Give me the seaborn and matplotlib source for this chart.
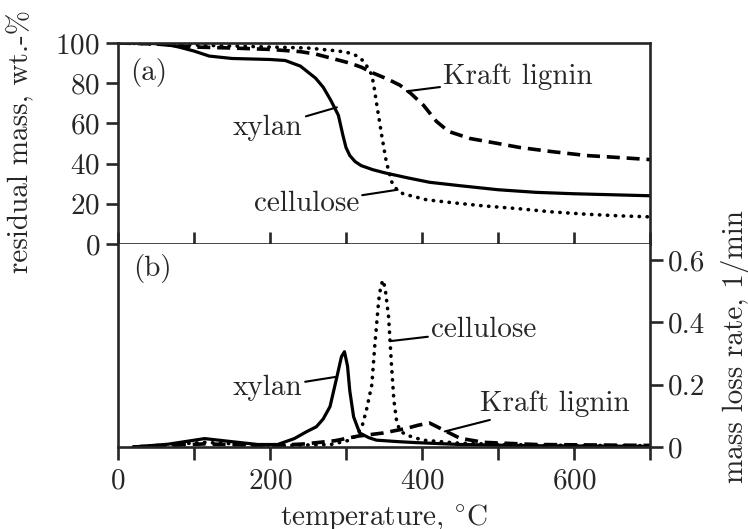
import numpy as np
import pandas as pd
import matplotlib
matplotlib.use("Agg")
import matplotlib.pyplot as plt
import seaborn as sns

# -----------------------------
# DATA
# -----------------------------
# (a) residual mass, wt.-%
xylan_T = [0, 30, 60, 80, 100, 120, 150, 200, 220, 240, 260, 270, 280, 290, 296,
           300, 305, 312, 320, 335, 350, 380, 410, 450, 500, 550, 600, 650, 700]
xylan_m = [100, 100, 99.5, 98, 96, 93.5, 92.3, 91.8, 91.3, 88.5, 82.5, 78, 71.5, 64, 54,
           48, 44, 41, 39, 37, 35.5, 33, 30.7, 29, 27, 25.7, 25, 24.5, 24]

cell_T = [0, 100, 200, 250, 290, 305, 315, 323, 330, 334, 337, 340, 347, 353, 360,
          367, 375, 406, 441, 480, 529, 570, 617, 660, 700]
cell_m = [100, 99, 98, 97.5, 96, 95, 93.5, 91, 87, 84, 78, 70.5, 54, 41, 31,
          27, 25, 22, 20.5, 19, 17.5, 16, 14.8, 14, 13.5]

kraft_T = [0, 50, 100, 150, 200, 240, 260, 280, 305, 320, 336, 355, 371, 385, 402,
           419, 435, 463, 500, 529, 570, 617, 660, 700]
kraft_m = [100, 99.5, 98, 97.5, 96.8, 95.7, 94.5, 92.5, 90, 88, 85, 82, 79, 75, 69,
           61, 56, 52.5, 50, 48, 46, 44, 43, 42]

# (b) mass loss rate, 1/min
xylan_rT = [20, 66, 114, 154, 184, 210, 232, 248, 261, 270, 279, 288, 294, 298,
            302, 305, 310, 318, 330, 340, 370, 393, 450, 550, 700]
xylan_r = [0.0, 0.009, 0.027, 0.016, 0.008, 0.008, 0.027, 0.049, 0.065, 0.09, 0.13,
           0.225, 0.29, 0.306, 0.26, 0.18, 0.097, 0.045, 0.03, 0.022, 0.017, 0.014,
           0.008, 0.004, 0.002]

cell_rT = [20, 114, 200, 280, 305, 315, 321, 327, 334, 338, 343, 346, 349, 352,
           356, 360, 363, 367, 372, 380, 401, 450, 550, 700]
cell_r = [0.0, 0.015, 0.004, 0.008, 0.022, 0.04, 0.065, 0.12, 0.2, 0.33, 0.47, 0.52,
          0.536, 0.5, 0.418, 0.258, 0.15, 0.076, 0.05, 0.038, 0.022, 0.012, 0.006, 0.004]

kraft_rT = [20, 114, 200, 246, 285, 316, 349, 380, 395, 410, 428, 450, 481, 550, 700]
kraft_r = [0.0, 0.01, 0.004, 0.01, 0.02, 0.035, 0.045, 0.06, 0.07, 0.077, 0.055,
           0.028, 0.015, 0.008, 0.005]

x_major = [0, 200, 400, 600]
x_minor = [100, 300, 500, 700]
mass_ticks = [0, 20, 40, 60, 80, 100]
rate_ticks = [0, 0.2, 0.4, 0.6]

# -----------------------------
# STYLE
# -----------------------------
sns.set_theme(style="ticks")
plt.rcParams["font.family"] = ["cmr10", "DejaVu Serif"]
plt.rcParams["mathtext.fontset"] = "cm"
plt.rcParams["axes.formatter.use_mathtext"] = True
plt.rcParams["font.size"] = 21
plt.rcParams["axes.unicode_minus"] = False

fs = 21
spine_w = 1.9
line_w = 2.3

solid = dict(color="black", lw=line_w, solid_capstyle="butt")
dotted = dict(color="black", lw=line_w + 0.3, linestyle=(0, (0.1, 2.1)), dash_capstyle="round")
dashed = dict(color="black", lw=line_w + 0.3, linestyle=(0, (3.6, 1.9)), dash_capstyle="butt")

fig = plt.figure(figsize=(7.48, 5.29), dpi=100)
ax1 = fig.add_axes([118 / 748, 1 - 244 / 529, 532 / 748, 201 / 529])
ax2 = fig.add_axes([118 / 748, 1 - 447 / 529, 532 / 748, 203 / 529])

# -----------------------------
# (a) residual mass
# -----------------------------
top = pd.DataFrame({"T": xylan_T, "m": xylan_m})
sns.lineplot(data=top, x="T", y="m", ax=ax1, **solid)
sns.lineplot(x=cell_T, y=cell_m, ax=ax1, **dotted)
sns.lineplot(x=kraft_T, y=kraft_m, ax=ax1, **dashed)

ax1.set_xlim(0, 700)
ax1.set_ylim(0, 100)
ax1.set_yticks(mass_ticks)
ax1.set_xticks(x_major)
ax1.set_xticks(x_minor, minor=True)
ax1.tick_params(axis="y", direction="out", length=9, width=spine_w, pad=4, labelsize=fs)
ax1.tick_params(axis="x", which="both", direction="in", length=9, width=spine_w,
                labelbottom=False)
ax1.set_xlabel("")
ax1.set_ylabel("residual mass, wt.-%", fontsize=fs)
ax1.yaxis.set_label_coords(-0.158, 0.512)
for s in ax1.spines.values():
    s.set_linewidth(spine_w)
    s.set_visible(True)

ax1.text(0.022, 0.855, "(a)", transform=ax1.transAxes, fontsize=fs, va="center")

leader = dict(arrowstyle="-", lw=1.5, color="black", shrinkA=0, shrinkB=0)
ax1.annotate("xylan", xy=(288, 68), xytext=(243, 58), ha="right", va="center",
             fontsize=fs, arrowprops=leader)
ax1.annotate("cellulose", xy=(368, 27), xytext=(317, 20), ha="right", va="center",
             fontsize=fs, arrowprops=leader)
ax1.annotate("Kraft lignin", xy=(380, 76), xytext=(428, 83), ha="left", va="center",
             fontsize=fs, arrowprops=leader)

# -----------------------------
# (b) mass loss rate
# -----------------------------
sns.lineplot(x=xylan_rT, y=xylan_r, ax=ax2, **solid)
sns.lineplot(x=cell_rT, y=cell_r, ax=ax2, **dotted)
sns.lineplot(x=kraft_rT, y=kraft_r, ax=ax2, **dashed)

ax2.set_xlim(0, 700)
ax2.set_ylim(0, 0.652)
ax2.set_xticks(x_major)
ax2.set_xticks(x_minor, minor=True)
ax2.set_yticks(rate_ticks)
ax2.set_yticklabels(["0", "0.2", "0.4", "0.6"])
ax2.yaxis.tick_right()
ax2.yaxis.set_label_position("right")
ax2.tick_params(axis="y", direction="out", length=9, width=spine_w, pad=4, labelsize=fs)
ax2.tick_params(axis="x", which="both", direction="out", length=9, width=spine_w,
                pad=6, labelsize=fs)
ax2.set_ylabel("mass loss rate, 1/min", fontsize=fs)
ax2.yaxis.set_label_coords(1.133, 0.497)
ax2.set_xlabel(r"temperature, $^{\circ}\mathrm{C}$", fontsize=fs)
ax2.xaxis.set_label_coords(0.5, -0.272)
for s in ax2.spines.values():
    s.set_linewidth(spine_w)
ax2.spines["top"].set_visible(False)
ax2.spines["left"].set_visible(True)
ax2.spines["right"].set_visible(True)

ax2.text(0.028, 0.88, "(b)", transform=ax2.transAxes, fontsize=fs, va="center")

ax2.annotate("xylan", xy=(286, 0.225), xytext=(242, 0.19), ha="right", va="center",
             fontsize=fs, arrowprops=leader)
ax2.annotate("cellulose", xy=(358, 0.34), xytext=(412, 0.375), ha="left", va="center",
             fontsize=fs, arrowprops=leader)
ax2.annotate("Kraft lignin", xy=(430, 0.05), xytext=(476, 0.14), ha="left", va="center",
             fontsize=fs, arrowprops=leader)

fig.savefig("out.png", dpi=100)
